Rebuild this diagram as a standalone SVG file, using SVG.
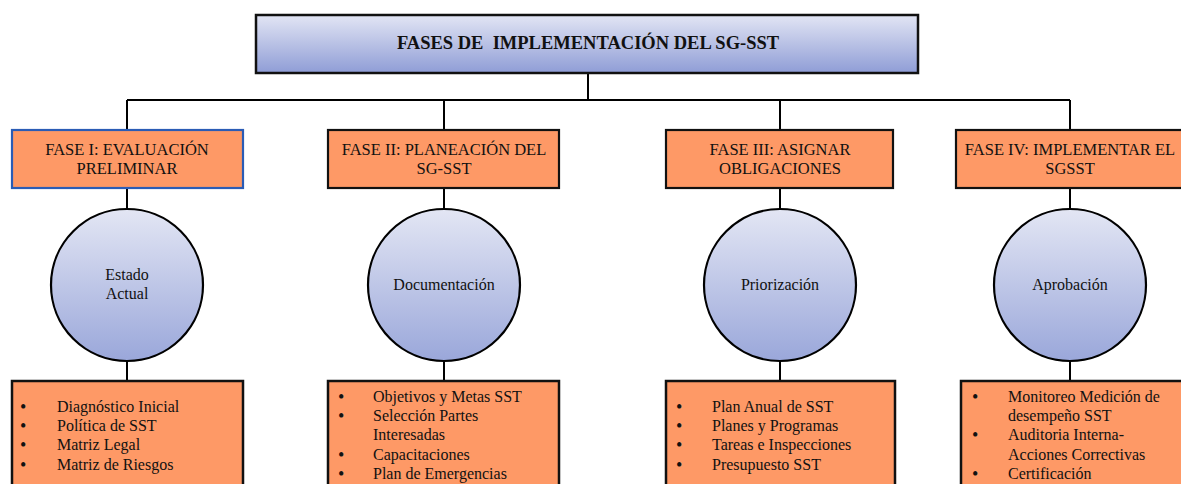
<svg xmlns="http://www.w3.org/2000/svg" width="1181" height="484" viewBox="0 0 1181 484" font-family="'Liberation Serif', 'Times New Roman', serif">
<defs>
<linearGradient id="gTitle" x1="0" y1="0" x2="0" y2="1"><stop offset="0" stop-color="#e2e5f4"/><stop offset="1" stop-color="#8f9dd6"/></linearGradient>
<linearGradient id="gCirc" x1="0" y1="0" x2="0" y2="1"><stop offset="0" stop-color="#e3e6f4"/><stop offset="1" stop-color="#9aa7da"/></linearGradient>
<style>
text{font-family:'Liberation Serif','Times New Roman',serif;fill:#111}
.ln{stroke:#000;stroke-width:2;fill:none}
.ph{fill:#fe9966;stroke:#111;stroke-width:2.2}
.ph1{fill:#fe9966;stroke:#2b5cb5;stroke-width:2.2}
.ci{fill:url(#gCirc);stroke:#000;stroke-width:2.2}
.bx{fill:#fe9966;stroke:#111;stroke-width:2.5}
.pt{font-size:16.5px;text-anchor:middle}
.ct{font-size:16px;text-anchor:middle}
.it{font-size:16px}
.b{font-size:18px}
</style>
</defs>
<g id="connectors">
<path class="ln" d="M588 73V100M127 100H1070M127 100V130M444 100V130M780 100V130M1070 100V130"/>
<path class="ln" d="M127 188V209M444 188V209M780 188V209M1070 188V209"/>
<path class="ln" d="M127 361V381M444 361V381M780 361V381M1070 361V381"/>
</g>
<g id="title">
<rect x="256" y="15" width="662" height="58" fill="url(#gTitle)" stroke="#111" stroke-width="2.5"/>
<text x="588" y="49" style="font-size:18.5px;font-weight:bold;text-anchor:middle" xml:space="preserve">FASES DE  IMPLEMENTACIÓN DEL SG-SST</text>
</g>
<g id="fase1">
<rect class="ph1" x="12" y="130" width="231" height="58"/>
<text class="pt" x="127" y="155">FASE I: EVALUACIÓN</text>
<text class="pt" x="127" y="174">PRELIMINAR</text>
</g>
<g id="fase2">
<rect class="ph" x="328" y="130" width="231" height="58"/>
<text class="pt" x="444" y="155">FASE II: PLANEACIÓN DEL</text>
<text class="pt" x="444" y="174">SG-SST</text>
</g>
<g id="fase3">
<rect class="ph" x="666" y="130" width="227" height="58"/>
<text class="pt" x="780" y="155">FASE III: ASIGNAR</text>
<text class="pt" x="780" y="174">OBLIGACIONES</text>
</g>
<g id="fase4">
<rect class="ph" x="956" y="130" width="240" height="58"/>
<text class="pt" x="1070" y="155">FASE IV: IMPLEMENTAR EL</text>
<text class="pt" x="1070" y="174">SGSST</text>
</g>
<g id="circ1">
<circle class="ci" cx="127" cy="285" r="76"/>
<text class="ct" x="127" y="280">Estado</text>
<text class="ct" x="127" y="299">Actual</text>
</g>
<g id="circ2">
<circle class="ci" cx="444" cy="285" r="76"/>
<text class="ct" x="444" y="290">Documentación</text>
</g>
<g id="circ3">
<circle class="ci" cx="780" cy="285" r="76"/>
<text class="ct" x="780" y="290">Priorización</text>
</g>
<g id="circ4">
<circle class="ci" cx="1070" cy="285" r="76"/>
<text class="ct" x="1070" y="290">Aprobación</text>
</g>
<g id="list1">
<rect class="bx" x="12" y="381" width="231" height="120"/>
<g class="it">
<text class="b" x="20" y="413">•</text><text x="57" y="412">Diagnóstico Inicial</text>
<text class="b" x="20" y="432">•</text><text x="57" y="431">Política de SST</text>
<text class="b" x="20" y="451">•</text><text x="57" y="450">Matriz Legal</text>
<text class="b" x="20" y="471">•</text><text x="57" y="470">Matriz de Riesgos</text>
</g>
</g>
<g id="list2">
<rect class="bx" x="328" y="381" width="231" height="120"/>
<g class="it">
<text class="b" x="338" y="403">•</text><text x="373" y="402">Objetivos y Metas SST</text>
<text class="b" x="338" y="422">•</text><text x="373" y="421">Selección Partes</text>
<text x="373" y="440">Interesadas</text>
<text class="b" x="338" y="461">•</text><text x="373" y="460">Capacitaciones</text>
<text class="b" x="338" y="480">•</text><text x="373" y="479">Plan de Emergencias</text>
</g>
</g>
<g id="list3">
<rect class="bx" x="666" y="381" width="229" height="120"/>
<g class="it">
<text class="b" x="676" y="413">•</text><text x="712" y="412">Plan Anual de SST</text>
<text class="b" x="676" y="432">•</text><text x="712" y="431">Planes y Programas</text>
<text class="b" x="676" y="451">•</text><text x="712" y="450">Tareas e Inspecciones</text>
<text class="b" x="676" y="471">•</text><text x="712" y="470">Presupuesto SST</text>
</g>
</g>
<g id="list4">
<rect class="bx" x="961" y="381" width="240" height="120"/>
<g class="it">
<text class="b" x="972" y="403">•</text><text x="1008" y="402">Monitoreo Medición de</text>
<text x="1008" y="421">desempeño SST</text>
<text class="b" x="972" y="441">•</text><text x="1008" y="440">Auditoria Interna-</text>
<text x="1008" y="460">Acciones Correctivas</text>
<text class="b" x="972" y="480">•</text><text x="1008" y="479">Certificación</text>
</g>
</g>
</svg>
